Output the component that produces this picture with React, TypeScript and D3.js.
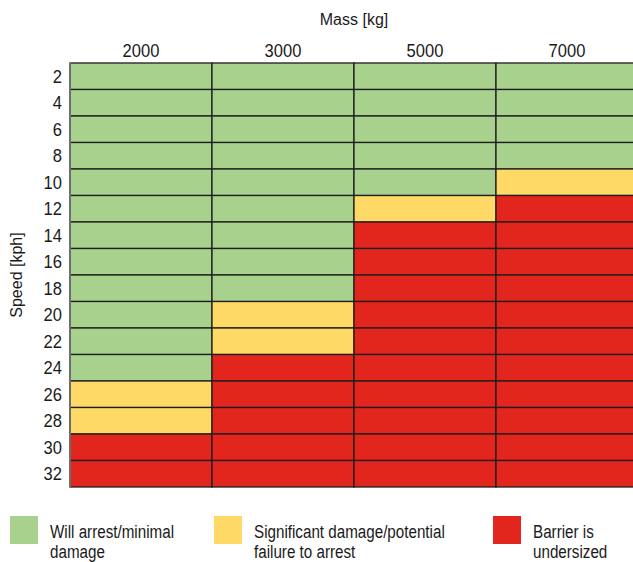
import { useEffect, useRef } from "react";
import * as d3 from "d3";

const masses = ["2000", "3000", "5000", "7000"];
const speeds = [2, 4, 6, 8, 10, 12, 14, 16, 18, 20, 22, 24, 26, 28, 30, 32];

// 0 = will arrest, 1 = significant damage, 2 = undersized (one list per mass, by speed)
const levels2000 = [0, 0, 0, 0, 0, 0, 0, 0, 0, 0, 0, 0, 1, 1, 2, 2];
const levels3000 = [0, 0, 0, 0, 0, 0, 0, 0, 0, 1, 1, 2, 2, 2, 2, 2];
const levels5000 = [0, 0, 0, 0, 0, 1, 2, 2, 2, 2, 2, 2, 2, 2, 2, 2];
const levels7000 = [0, 0, 0, 0, 1, 2, 2, 2, 2, 2, 2, 2, 2, 2, 2, 2];

const legendLabels = [
  ["Will arrest/minimal", "damage"],
  ["Significant damage/potential", "failure to arrest"],
  ["Barrier is", "undersized"],
];
const colors = ["#a9d18e", "#fed966", "#e2251d"];

export default function App() {
  const ref = useRef<SVGSVGElement>(null);

  useEffect(() => {
    document.body.style.margin = "0";
    const svg = d3.select(ref.current);
    svg.selectAll("*").remove();

    const width = 633;
    const height = 562;
    const left = 70;
    const top = 63;
    const colW = 142;
    const rowH = 26.5;

    const x = d3.scaleBand().domain(masses).range([left, left + colW * masses.length]);
    const y = d3
      .scaleBand<number>()
      .domain(speeds)
      .range([top, top + rowH * speeds.length]);
    const color = d3.scaleOrdinal<number, string>().domain([0, 1, 2]).range(colors);

    const cells = [levels2000, levels3000, levels5000, levels7000].flatMap((col, i) =>
      col.map((lv, j) => ({ mass: masses[i], speed: speeds[j], lv })),
    );

    const font = "Liberation Sans, Arial, sans-serif";

    svg.attr("width", width).attr("height", height);

    svg
      .append("g")
      .selectAll("rect")
      .data(cells)
      .join("rect")
      .attr("x", (d) => x(d.mass)!)
      .attr("y", (d) => y(d.speed)!)
      .attr("width", x.bandwidth())
      .attr("height", y.bandwidth())
      .attr("fill", (d) => color(d.lv))
      .attr("stroke", "#1e1e1e")
      .attr("stroke-width", 1.3);

    // left border
    svg
      .append("line")
      .attr("x1", left)
      .attr("x2", left)
      .attr("y1", top)
      .attr("y2", top + rowH * speeds.length)
      .attr("stroke", "#6e6e6e")
      .attr("stroke-width", 2);

    // column labels
    svg
      .append("g")
      .selectAll("text")
      .data(masses)
      .join("text")
      .attr("transform", (d) => `translate(${x(d)! + x.bandwidth() / 2},57) scale(0.92,1)`)
      .attr("text-anchor", "middle")
      .attr("font-family", font)
      .attr("font-size", 18)
      .attr("fill", "#1a1a1a")
      .text((d) => d);

    // row labels
    svg
      .append("g")
      .selectAll("text")
      .data(speeds)
      .join("text")
      .attr("transform", (d) => `translate(62,${y(d)! + y.bandwidth() / 2 + 6.5}) scale(0.92,1)`)
      .attr("text-anchor", "end")
      .attr("font-family", font)
      .attr("font-size", 18)
      .attr("fill", "#1a1a1a")
      .text((d) => d);

    svg
      .append("text")
      .attr("x", left + (colW * masses.length) / 2)
      .attr("y", 25)
      .attr("text-anchor", "middle")
      .attr("font-family", font)
      .attr("font-size", 16)
      .attr("fill", "#1a1a1a")
      .text("Mass [kg]");

    svg
      .append("text")
      .attr("transform", `translate(22,${top + (rowH * speeds.length) / 2}) rotate(-90)`)
      .attr("text-anchor", "middle")
      .attr("font-family", font)
      .attr("font-size", 16)
      .attr("fill", "#1a1a1a")
      .text("Speed [kph]");

    // legend
    const legendX = [10, 214, 493];
    const lg = svg
      .append("g")
      .selectAll("g")
      .data(legendLabels)
      .join("g")
      .attr("transform", (_, i) => `translate(${legendX[i]},516)`);

    lg.append("rect")
      .attr("width", 28)
      .attr("height", 28)
      .attr("fill", (_, i) => colors[i]);

    // condensed look: the narrow face is not installed, so squeeze horizontally
    lg.append("text")
      .attr("transform", "translate(40,0) scale(0.8,1)")
      .attr("font-family", font)
      .attr("font-size", 19)
      .attr("fill", "#1a1a1a")
      .selectAll("tspan")
      .data((d) => d)
      .join("tspan")
      .attr("x", 0)
      .attr("y", (_, i) => 22 + i * 20)
      .text((d) => d);
  }, []);

  return <svg ref={ref} style={{ display: "block" }} />;
}
